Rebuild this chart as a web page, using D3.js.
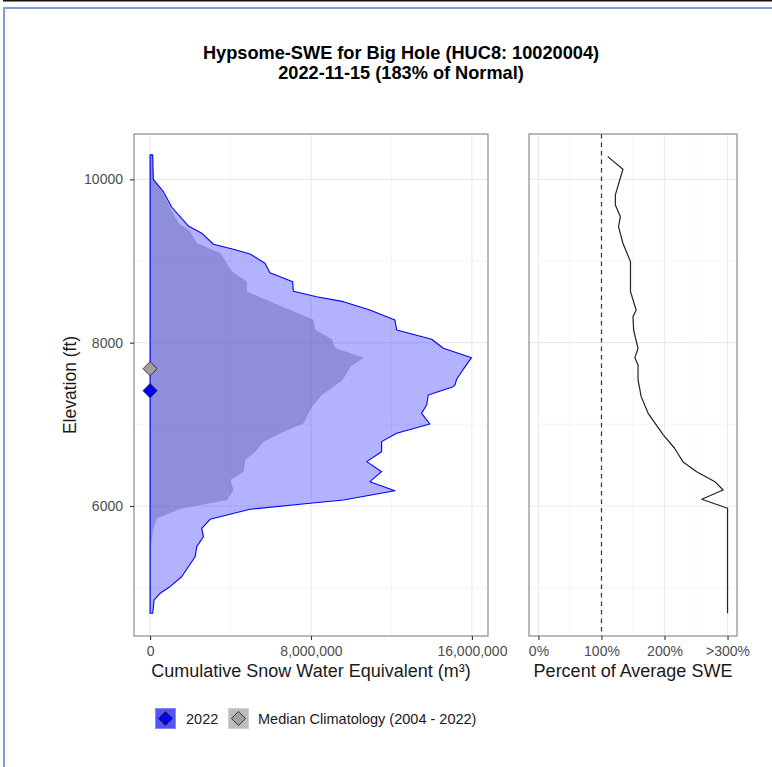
<!DOCTYPE html>
<html>
<head>
<meta charset="utf-8">
<script src="https://cdn.jsdelivr.net/npm/d3@7/dist/d3.min.js"></script>
<style>
  body { margin: 0; background: #fff; }
  text { font-family: "Liberation Sans", Arial, Helvetica, sans-serif; }
</style>
</head>
<body>
<div id="chart"></div>
<script>
// --- data ---
let titleLines = ["Hypsome-SWE for Big Hole (HUC8: 10020004)", "2022-11-15 (183% of Normal)"];

// 2022 cumulative SWE (m3) by elevation (ft)
let elev2022 = [10300, 10000, 9849, 9658, 9429, 9340, 9205, 9144, 9086, 8972, 8857, 8747, 8629, 8563, 8502,
    8400, 8278, 8155, 8041, 7931, 7816, 7666, 7552, 7482, 7461, 7359, 7237, 7135, 7004, 6890, 6788, 6665,
    6543, 6420, 6298, 6187, 6073, 6033, 5960, 5837, 5727, 5624, 5502, 5379, 5134, 5012, 4931, 4849, 4686];
let swe2022 = [0.13, 0.16, 0.66, 1.08, 1.90, 2.57, 3.15, 4.14, 4.97, 5.71, 5.96, 7.09, 7.12, 8.28, 9.61,
    10.93, 12.17, 12.26, 14.00, 14.58, 15.98, 15.55, 15.24, 15.16, 15.07, 13.83, 13.75, 13.50, 13.91, 12.26,
    11.51, 11.51, 10.77, 11.51, 10.93, 12.17, 9.61, 7.95, 4.97, 2.98, 2.57, 2.65, 2.32, 2.24, 1.57, 0.99,
    0.50, 0.20, 0.13].map(function(v) { return v * 1e6; });

// median climatology
let elevMed = [10300, 10000, 9849, 9608, 9462, 9360, 9217, 9095, 8870, 8747, 8625, 8502, 8278, 8155, 8041,
    7931, 7816, 7706, 7666, 7540, 7359, 7216, 7013, 6910, 6788, 6665, 6563, 6420, 6318, 6196, 6073, 5972,
    5849, 5706, 5502, 4686];
let sweMed = [0.12, 0.16, 0.58, 1.08, 1.41, 1.99, 2.32, 3.48, 4.06, 4.80, 4.80, 5.96, 8.12, 8.20, 9.03,
    9.19, 10.60, 9.94, 9.86, 9.55, 8.53, 8.03, 7.62, 6.63, 5.63, 5.22, 4.72, 4.64, 3.98, 4.14, 3.81, 1.57,
    0.33, 0.13, 0.03, 0].map(function(v) { return v * 1e6; });

// percent of average
let elevPct = [10278, 10123, 9809, 9686, 9543, 9421, 9217, 8992, 8625, 8400, 8318, 8155, 7931, 7816, 7727,
    7543, 7339, 7135, 6870, 6707, 6543, 6420, 6298, 6196, 6082, 5972, 4686];
let pctSwe = [110, 134, 122, 122, 130, 127, 134, 146, 146, 155, 150, 151, 158, 153, 158,
    158, 163, 174, 198, 216, 229, 251, 280, 293, 259, 300, 300];

// median elevation of SWE
let medianElev = [{ name: "2022", elev: 7412, fill: "#0000ff" },
                  { name: "Median Climatology (2004 - 2022)", elev: 7681, fill: "#a0a0a0" }];

let elevTicks = [6000, 8000, 10000],
    elevMinor = [5000, 7000, 9000],
    sweTicks = [0, 8e6, 16e6],
    sweMinor = [4e6, 12e6],
    pctTicks = [0, 100, 200, 300],
    pctMinor = [50, 150, 250],
    pctLabels = ["0%", "100%", "200%", ">300%"];

let legendKeys = [{ label: "2022", bg: "#5252ff", edge: "#8a8aff", fill: "#0000ff" },
                  { label: "Median Climatology (2004 - 2022)", bg: "#bdbdbd", edge: "#cfcfcf", fill: "#a0a0a0" }];

// --- drawing ---
let W = 772, H = 767;
let left = { x0: 134, x1: 488 }, right = { x0: 529, x1: 737 }, plotTop = 134, plotBottom = 636;

let svg = d3.select("#chart").append("svg")
    .attr("width", W).attr("height", H);

// page frame
svg.append("rect").attr("x", 3).attr("y", 0).attr("width", W - 3).attr("height", 1.5).attr("fill", "#111");
svg.append("path").attr("d", "M4," + H + "V8H" + W)
    .attr("fill", "none").attr("stroke", "#76a0d6").attr("stroke-width", 2);

let y = d3.scaleLinear().domain([4408, 10555]).range([plotBottom, plotTop]);
let xL = d3.scaleLinear().domain([-0.8e6, 16.8e6]).range([left.x0, left.x1]);
let xR = d3.scaleLinear().domain([-15, 315]).range([right.x0, right.x1]);

let drawGrid = function(x, p, major, minor) {
    let g = svg.append("g");
    minor.forEach(function(d) {
        g.append("line").attr("x1", x(d)).attr("x2", x(d)).attr("y1", plotTop).attr("y2", plotBottom)
            .attr("stroke", "#f3f3f3").attr("stroke-width", 0.8);
    });
    elevMinor.forEach(function(d) {
        g.append("line").attr("x1", p.x0).attr("x2", p.x1).attr("y1", y(d)).attr("y2", y(d))
            .attr("stroke", "#f3f3f3").attr("stroke-width", 0.8);
    });
    major.forEach(function(d) {
        g.append("line").attr("x1", x(d)).attr("x2", x(d)).attr("y1", plotTop).attr("y2", plotBottom)
            .attr("stroke", "#ebebeb").attr("stroke-width", 1.2);
    });
    elevTicks.forEach(function(d) {
        g.append("line").attr("x1", p.x0).attr("x2", p.x1).attr("y1", y(d)).attr("y2", y(d))
            .attr("stroke", "#ebebeb").attr("stroke-width", 1.2);
    });
};
drawGrid(xL, left, sweTicks, sweMinor);
drawGrid(xR, right, pctTicks, pctMinor);

// median climatology area (under)
let medPts = elevMed.map(function(e, i) { return [sweMed[i], e]; });
svg.append("path")
    .attr("d", d3.area().y(function(d) { return y(d[1]); }).x0(xL(0)).x1(function(d) { return xL(d[0]); })(medPts))
    .attr("fill", "#7f7f7f").attr("fill-opacity", 0.4)
    .attr("stroke", "#7f7f7f").attr("stroke-opacity", 0.15).attr("stroke-width", 0.8);

// 2022 area with outline
let pts2022 = elev2022.map(function(e, i) { return [swe2022[i], e]; });
let outline = [[0, elev2022[0]]].concat(pts2022).concat([[0, elev2022[elev2022.length - 1]]]);
svg.append("path")
    .attr("d", d3.line().x(function(d) { return xL(d[0]); }).y(function(d) { return y(d[1]); })(outline) + "Z")
    .attr("fill", "#0000ff").attr("fill-opacity", 0.3)
    .attr("stroke", "#0000ff").attr("stroke-width", 1.1).attr("stroke-linejoin", "round");

// diamonds
let diamond = d3.symbol().type(d3.symbolSquare).size(100);
svg.selectAll("path.med")
    .data(medianElev)
  .enter().append("path")
    .attr("class", "med")
    .attr("d", diamond)
    .attr("transform", function(d) { return "translate(" + xL(0) + "," + y(d.elev) + ") rotate(45)"; })
    .attr("fill", function(d) { return d.fill; })
    .attr("stroke", "#222").attr("stroke-width", 0.8);

// right panel
svg.append("line")
    .attr("x1", xR(100)).attr("x2", xR(100)).attr("y1", plotTop).attr("y2", plotBottom)
    .attr("stroke", "#333").attr("stroke-width", 1.2).attr("stroke-dasharray", "4.5,4");
let pctPts = elevPct.map(function(e, i) { return [pctSwe[i], e]; });
svg.append("path")
    .attr("d", d3.line().x(function(d) { return xR(d[0]); }).y(function(d) { return y(d[1]); })(pctPts))
    .attr("fill", "none").attr("stroke", "#222").attr("stroke-width", 1.2).attr("stroke-linejoin", "round");

// panel borders
[left, right].forEach(function(p) {
    svg.append("rect").attr("x", p.x0).attr("y", plotTop).attr("width", p.x1 - p.x0).attr("height", plotBottom - plotTop)
        .attr("fill", "none").attr("stroke", "#8a8a8a").attr("stroke-width", 1.2);
});

// axes
let styleAxis = function(g) {
    g.select(".domain").remove();
    g.selectAll(".tick line").attr("stroke", "#333").attr("stroke-width", 1.1);
    g.selectAll(".tick text").attr("fill", "#4d4d4d").attr("font-size", 14)
        .attr("font-family", '"Liberation Sans", Arial, sans-serif');
};
svg.append("g").attr("transform", "translate(0," + plotBottom + ")")
    .call(d3.axisBottom(xL).tickValues(sweTicks).tickSize(4).tickPadding(6).tickFormat(d3.format(",")))
    .call(styleAxis);
svg.append("g").attr("transform", "translate(0," + plotBottom + ")")
    .call(d3.axisBottom(xR).tickValues(pctTicks).tickSize(4).tickPadding(6)
        .tickFormat(function(d, i) { return pctLabels[i]; }))
    .call(styleAxis);
svg.append("g").attr("transform", "translate(" + left.x0 + ",0)")
    .call(d3.axisLeft(y).tickValues(elevTicks).tickSize(4).tickPadding(7).tickFormat(d3.format("d")))
    .call(styleAxis);

// titles
let title = svg.append("text").attr("text-anchor", "middle").attr("font-weight", "bold")
    .attr("font-size", 18.2).attr("fill", "#000");
titleLines.forEach(function(t, i) {
    title.append("tspan").attr("x", 401).attr("y", 59 + i * 19.5).text(t);
});
svg.append("text").attr("x", 311).attr("y", 677).attr("text-anchor", "middle")
    .attr("font-size", 18).attr("fill", "#1a1a1a").text("Cumulative Snow Water Equivalent (m³)");
svg.append("text").attr("x", 633).attr("y", 677).attr("text-anchor", "middle")
    .attr("font-size", 18).attr("fill", "#1a1a1a").text("Percent of Average SWE");
svg.append("text").attr("transform", "translate(76,385) rotate(-90)").attr("text-anchor", "middle")
    .attr("font-size", 17.5).attr("fill", "#1a1a1a").text("Elevation (ft)");

// legend
let keyX = [155, 228], textX = [186, 258];
let legend = svg.selectAll("g.legend")
    .data(legendKeys)
  .enter().append("g")
    .attr("class", "legend")
    .attr("transform", function(d, i) { return "translate(" + keyX[i] + ",708)"; });
legend.append("rect").attr("x", 0.5).attr("y", 0.5).attr("width", 20).attr("height", 20)
    .attr("fill", function(d) { return d.bg; })
    .attr("stroke", function(d) { return d.edge; }).attr("stroke-width", 1);
legend.append("path").attr("d", diamond)
    .attr("transform", "translate(10.5,10.5) rotate(45)")
    .attr("fill", function(d) { return d.fill; }).attr("stroke", "#222").attr("stroke-width", 0.8);
legend.append("text")
    .attr("x", function(d, i) { return textX[i] - keyX[i]; }).attr("y", 16)
    .attr("font-size", 14.5).attr("fill", "#1a1a1a")
    .text(function(d) { return d.label; });
</script>
</body>
</html>
